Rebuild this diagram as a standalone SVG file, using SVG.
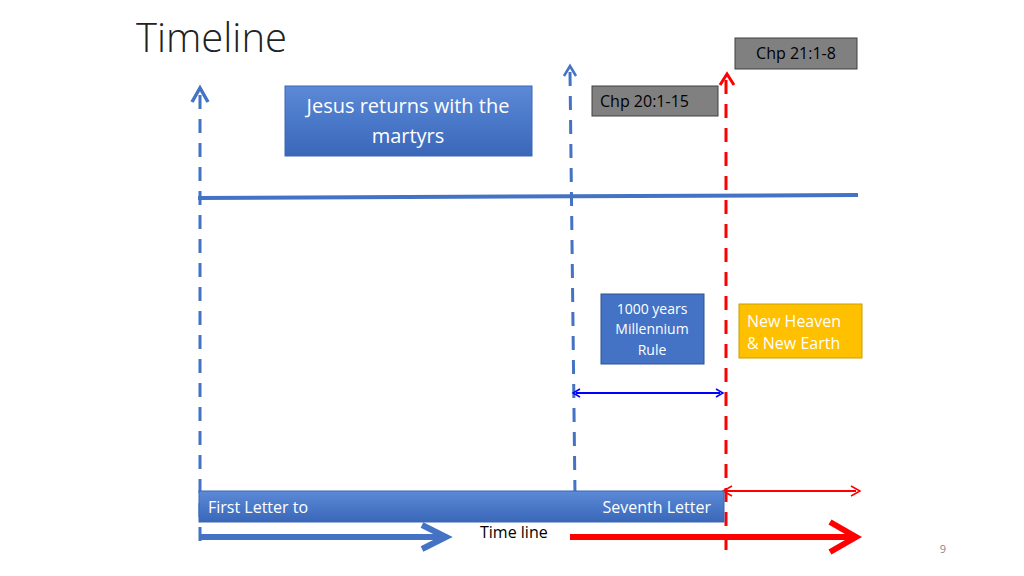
<svg xmlns="http://www.w3.org/2000/svg" width="1024" height="576" viewBox="0 0 1024 576">
<style>
text{font-family:"Open Sans","Liberation Sans",sans-serif}
.bd{stroke:#4472c4;stroke-width:3;stroke-dasharray:14,10;fill:none}
.rd{stroke:#ff0000;stroke-width:3;stroke-dasharray:14,10;fill:none}
.grey{fill:#808080;stroke:#404040;stroke-width:1}
</style>
<defs>
<linearGradient id="bg" x1="0" y1="0" x2="0" y2="1"><stop offset="0" stop-color="#5b8ad8"/><stop offset="1" stop-color="#3a67b8"/></linearGradient>
<marker id="ab" markerWidth="10" markerHeight="10" refX="5" refY="5" orient="auto-start-reverse" markerUnits="userSpaceOnUse"><path d="M1,1 L8,5 L1,9" fill="none" stroke="#0000ff" stroke-width="1.5"/></marker>
<marker id="ar" markerWidth="12" markerHeight="12" refX="6" refY="6" orient="auto-start-reverse" markerUnits="userSpaceOnUse"><path d="M1,1 L10,6 L1,11" fill="none" stroke="#ff0000" stroke-width="1.5"/></marker>
</defs>
<rect width="1024" height="576" fill="#fff"/>
<text x="136" y="52" font-size="40" fill="#222" font-family="Open Sans" font-weight="300">Timeline</text>
<g id="connectors">
<line class="bd" x1="200" y1="95" x2="200" y2="550"/>
<path d="M192,102 L200,88 L208,102" fill="none" stroke="#4472c4" stroke-width="3.5"/>
<line class="bd" x1="570" y1="72" x2="575" y2="495"/>
<path d="M564,76 L570,66 L576,76" fill="none" stroke="#4472c4" stroke-width="2.5"/>
<line class="rd" x1="726" y1="80" x2="726" y2="550"/>
<path d="M720,85 L727,74 L734,85" fill="none" stroke="#ff0000" stroke-width="3"/>
<line x1="198" y1="198" x2="858" y2="195" stroke="#4472c4" stroke-width="4"/>
<line x1="576" y1="393" x2="720" y2="393" stroke="#0000ff" stroke-width="2" marker-start="url(#ab)" marker-end="url(#ab)"/>
<line x1="727" y1="491" x2="856" y2="491" stroke="#ff0000" stroke-width="2" marker-start="url(#ar)" marker-end="url(#ar)"/>
<line x1="200" y1="537" x2="445" y2="537" stroke="#4472c4" stroke-width="6"/>
<path d="M422,525 L446,537 L422,549" fill="none" stroke="#4472c4" stroke-width="6"/>
<line x1="570" y1="537" x2="852" y2="537" stroke="#ff0000" stroke-width="6"/>
<path d="M830,522 L856,537 L830,552" fill="none" stroke="#ff0000" stroke-width="6"/>
</g>
<g id="title-box"><rect x="285" y="86" width="247" height="70" fill="url(#bg)" stroke="#3a67b8"/>
<text x="408" y="113" font-size="20" fill="#fff" text-anchor="middle">Jesus returns with the</text>
<text x="408" y="143" font-size="20" fill="#fff" text-anchor="middle">martyrs</text></g>
<g id="chp20"><rect class="grey" x="592" y="86" width="126" height="30"/><text x="600" y="107" font-size="16" fill="#000">Chp 20:1-15</text></g>
<g id="chp21"><rect class="grey" x="735" y="38" width="122" height="31"/><text x="796" y="59" font-size="16" fill="#000" text-anchor="middle">Chp 21:1-8</text></g>
<g id="millennium"><rect x="601" y="294" width="103" height="70" fill="#4472c4" stroke="#2f528f"/>
<text x="652" y="314" font-size="14" fill="#fff" text-anchor="middle">1000 years</text>
<text x="652" y="334" font-size="14" fill="#fff" text-anchor="middle">Millennium</text>
<text x="652" y="355" font-size="14" fill="#fff" text-anchor="middle">Rule</text></g>
<g id="newheaven"><rect x="739" y="304" width="123" height="54" fill="#ffc000" stroke="#c9a000"/>
<text x="747" y="327" font-size="16" fill="#fff">New Heaven</text>
<text x="747" y="349" font-size="16" fill="#fff">&amp; New Earth</text></g>
<g id="letters"><rect x="199" y="491" width="525" height="31" fill="url(#bg)" stroke="#3a67b8"/>
<text x="208" y="513" font-size="16" fill="#fff">First Letter to</text>
<text x="711" y="513" font-size="16" fill="#fff" text-anchor="end">Seventh Letter</text></g>
<text x="480" y="538" font-size="16" fill="#000">Time line</text>
<text x="943" y="553" font-size="11" fill="#888" text-anchor="middle">9</text>
</svg>
